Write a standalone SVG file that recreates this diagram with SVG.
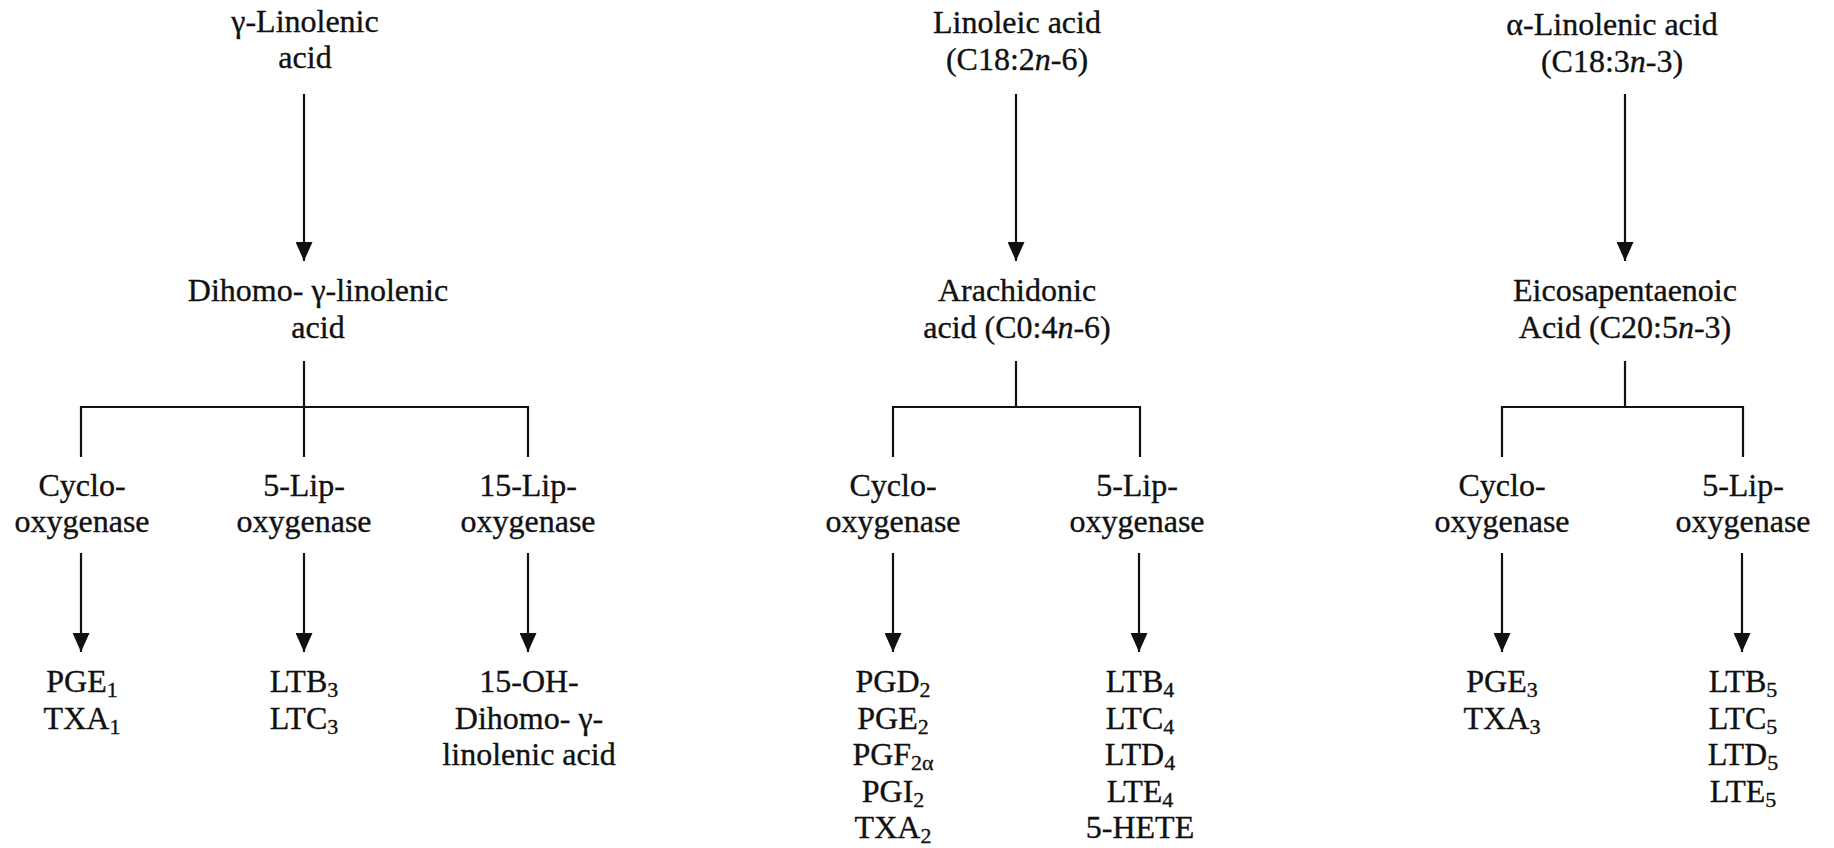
<svg xmlns="http://www.w3.org/2000/svg" width="1834" height="848" viewBox="0 0 1834 848">
  <style>
    text { font-family: "Liberation Serif", "Times New Roman", serif; font-size: 32px; fill: #111; stroke: #111; stroke-width: 0.35; text-anchor: middle; }
    .sub { font-size: 22px; }
    .it { font-style: italic; }
    .ln { stroke: #111; stroke-width: 2.2; fill: none; }
  </style>
  <defs>
    <marker id="head" viewBox="0 0 19 17" refX="19" refY="8.5" markerWidth="19" markerHeight="17" markerUnits="userSpaceOnUse" orient="auto">
      <path d="M0,0 L19,8.5 L0,17 z" fill="#111"/>
    </marker>
  </defs>
  <rect width="1834" height="848" fill="#fff"/>

  <!-- connectors -->
  <g id="connectors">
    <!-- gamma-linolenic branch -->
    <line class="ln" x1="304" y1="94" x2="304" y2="261" marker-end="url(#head)"/>
    <line class="ln" x1="304" y1="361" x2="304" y2="407"/>
    <polyline class="ln" points="81,457 81,407 528,407 528,457"/>
    <line class="ln" x1="304" y1="407" x2="304" y2="457"/>
    <line class="ln" x1="81" y1="553" x2="81" y2="652" marker-end="url(#head)"/>
    <line class="ln" x1="304" y1="553" x2="304" y2="652" marker-end="url(#head)"/>
    <line class="ln" x1="528" y1="553" x2="528" y2="652" marker-end="url(#head)"/>
    <!-- linoleic branch -->
    <line class="ln" x1="1016" y1="94" x2="1016" y2="261" marker-end="url(#head)"/>
    <line class="ln" x1="1016" y1="361" x2="1016" y2="407"/>
    <polyline class="ln" points="893,457 893,407 1140,407 1140,457"/>
    <line class="ln" x1="893" y1="553" x2="893" y2="652" marker-end="url(#head)"/>
    <line class="ln" x1="1139" y1="553" x2="1139" y2="652" marker-end="url(#head)"/>
    <!-- alpha-linolenic branch -->
    <line class="ln" x1="1625" y1="94" x2="1625" y2="261" marker-end="url(#head)"/>
    <line class="ln" x1="1625" y1="361" x2="1625" y2="407"/>
    <polyline class="ln" points="1502,457 1502,407 1743,407 1743,457"/>
    <line class="ln" x1="1502" y1="553" x2="1502" y2="652" marker-end="url(#head)"/>
    <line class="ln" x1="1742" y1="553" x2="1742" y2="652" marker-end="url(#head)"/>
  </g>

  <!-- gamma-linolenic series -->
  <g id="gla">
    <text x="305" y="32">γ-Linolenic</text>
    <text x="305" y="68">acid</text>
  </g>
  <g id="dgla">
    <text x="318" y="301">Dihomo- γ-linolenic</text>
    <text x="318" y="338">acid</text>
  </g>
  <g id="cox1">
    <text x="82" y="496">Cyclo-</text>
    <text x="82" y="532">oxygenase</text>
  </g>
  <g id="lox5-1">
    <text x="304" y="496">5-Lip-</text>
    <text x="304" y="532">oxygenase</text>
  </g>
  <g id="lox15">
    <text x="528" y="496">15-Lip-</text>
    <text x="528" y="532">oxygenase</text>
  </g>
  <g id="series1-cox">
    <text x="82" y="692">PGE<tspan class="sub" dy="5">1</tspan></text>
    <text x="82" y="729">TXA<tspan class="sub" dy="5">1</tspan></text>
  </g>
  <g id="series3-lt">
    <text x="304" y="692">LTB<tspan class="sub" dy="5">3</tspan></text>
    <text x="304" y="729">LTC<tspan class="sub" dy="5">3</tspan></text>
  </g>
  <g id="oh-dgla">
    <text x="529" y="692">15-OH-</text>
    <text x="529" y="729">Dihomo- γ-</text>
    <text x="529" y="765">linolenic acid</text>
  </g>

  <!-- linoleic series -->
  <g id="la">
    <text x="1017" y="33">Linoleic acid</text>
    <text x="1017" y="70">(C18:2<tspan class="it">n</tspan>-6)</text>
  </g>
  <g id="aa">
    <text x="1017" y="301">Arachidonic</text>
    <text x="1017" y="338">acid (C0:4<tspan class="it">n</tspan>-6)</text>
  </g>
  <g id="cox2">
    <text x="893" y="496">Cyclo-</text>
    <text x="893" y="532">oxygenase</text>
  </g>
  <g id="lox5-2">
    <text x="1137" y="496">5-Lip-</text>
    <text x="1137" y="532">oxygenase</text>
  </g>
  <g id="series2-pg">
    <text x="893" y="692">PGD<tspan class="sub" dy="5">2</tspan></text>
    <text x="893" y="729">PGE<tspan class="sub" dy="5">2</tspan></text>
    <text x="893" y="765">PGF<tspan class="sub" dy="5">2α</tspan></text>
    <text x="893" y="802">PGI<tspan class="sub" dy="5">2</tspan></text>
    <text x="893" y="838">TXA<tspan class="sub" dy="5">2</tspan></text>
  </g>
  <g id="series4-lt">
    <text x="1140" y="692">LTB<tspan class="sub" dy="5">4</tspan></text>
    <text x="1140" y="729">LTC<tspan class="sub" dy="5">4</tspan></text>
    <text x="1140" y="765">LTD<tspan class="sub" dy="5">4</tspan></text>
    <text x="1140" y="802">LTE<tspan class="sub" dy="5">4</tspan></text>
    <text x="1140" y="838">5-HETE</text>
  </g>

  <!-- alpha-linolenic series -->
  <g id="ala">
    <text x="1612" y="35">α-Linolenic acid</text>
    <text x="1612" y="72">(C18:3<tspan class="it">n</tspan>-3)</text>
  </g>
  <g id="epa">
    <text x="1625" y="301">Eicosapentaenoic</text>
    <text x="1625" y="338">Acid (C20:5<tspan class="it">n</tspan>-3)</text>
  </g>
  <g id="cox3">
    <text x="1502" y="496">Cyclo-</text>
    <text x="1502" y="532">oxygenase</text>
  </g>
  <g id="lox5-3">
    <text x="1743" y="496">5-Lip-</text>
    <text x="1743" y="532">oxygenase</text>
  </g>
  <g id="series3-pg">
    <text x="1502" y="692">PGE<tspan class="sub" dy="5">3</tspan></text>
    <text x="1502" y="729">TXA<tspan class="sub" dy="5">3</tspan></text>
  </g>
  <g id="series5-lt">
    <text x="1743" y="692">LTB<tspan class="sub" dy="5">5</tspan></text>
    <text x="1743" y="729">LTC<tspan class="sub" dy="5">5</tspan></text>
    <text x="1743" y="765">LTD<tspan class="sub" dy="5">5</tspan></text>
    <text x="1743" y="802">LTE<tspan class="sub" dy="5">5</tspan></text>
  </g>
</svg>
